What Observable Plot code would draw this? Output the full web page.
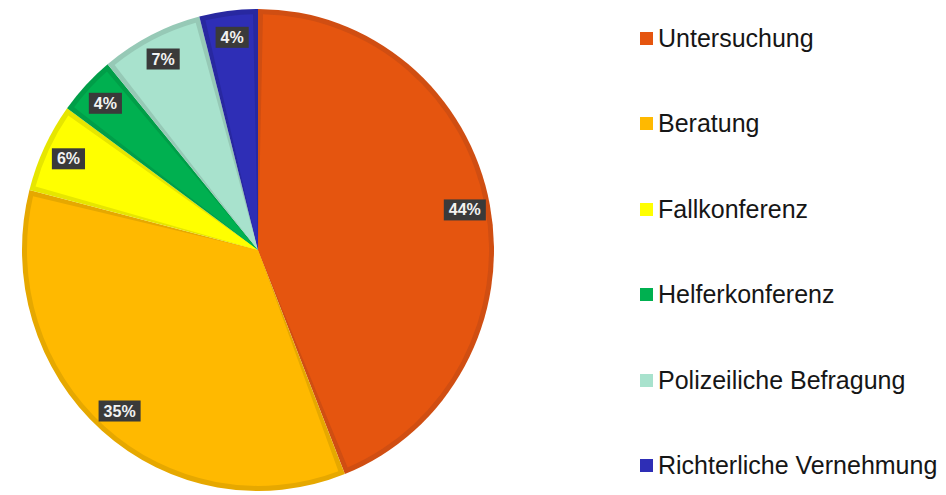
<!DOCTYPE html>
<html>
<head>
<meta charset="utf-8">
<script src="https://cdn.jsdelivr.net/npm/d3@7"></script>
<script src="https://cdn.jsdelivr.net/npm/@observablehq/plot@0.6"></script>
<style>
  html, body { margin: 0; padding: 0; background: #fff; }
  #wrap { position: relative; width: 946px; height: 495px; overflow: hidden; font-family: "Liberation Sans", Arial, sans-serif; }
  #legend { position: absolute; left: 640px; top: -4.75px; }
  .row { height: 85.5px; display: flex; align-items: center; }
  .sw { width: 13px; height: 13px; margin-right: 5px; flex: none; }
  .lab { font-size: 25px; color: #161616; white-space: nowrap; line-height: 1; }
</style>
</head>
<body>
<div id="wrap"></div>
<script>
const categories = ["Untersuchung", "Beratung", "Fallkonferenz", "Helferkonferenz", "Polizeiliche Befragung", "Richterliche Vernehmung"];
const shares = [44, 35, 6, 4, 7, 4];
const shareLabels = ["44%", "35%", "6%", "4%", "7%", "4%"];
const fills = ["#E5550F", "#FFB900", "#FFFF00", "#00B050", "#A8E2CD", "#2E2EB6"];
const borders = ["#D04E12", "#E6A800", "#E6E600", "#009E48", "#96C9B6", "#2828A0"];

const data = categories.map((c, i) => ({category: c, value: shares[i], label: shareLabels[i], fill: fills[i], border: borders[i]}));
const arcs = d3.pie().sort(null).value(d => d.value)(data);
const labelR = 0.89;
const labelData = arcs.map(a => {
  const mid = (a.startAngle + a.endAngle) / 2;
  return {label: a.data.label, x: Math.sin(mid) * labelR, y: Math.cos(mid) * labelR};
});

function pieMark(index, scales) {
  const cx = scales.x(0), cy = scales.y(0);
  const rx = scales.x(1) - cx, ry = cy - scales.y(1);
  const g = d3.create("svg:g").attr("transform", `translate(${cx},${cy}) scale(1,${ry / rx})`);
  const inset = 5;
  const outer = d3.arc().innerRadius(0).outerRadius(rx);
  const inner = d3.arc().innerRadius(0).outerRadius(rx - inset).padRadius(rx - inset);
  g.selectAll("path.o").data(arcs).join("path").attr("class", "o")
    .attr("d", d => outer(d)).attr("fill", d => d.data.border);
  g.selectAll("path.i").data(arcs).join("path").attr("class", "i")
    .attr("d", d => inner({...d, padAngle: 2 * inset / (rx - inset)})).attr("fill", d => d.data.fill);
  return g.node();
}

const plot = Plot.plot({
  width: 946,
  height: 495,
  marginLeft: 22,
  marginRight: 452,
  marginTop: 9,
  marginBottom: 4,
  x: {domain: [-1, 1], axis: null},
  y: {domain: [-1, 1], axis: null},
  style: {background: "transparent", overflow: "visible"},
  marks: [
    pieMark,
    Plot.text(labelData, {x: "x", y: "y", text: "label", fill: "#f2f2f2", fontSize: 16, fontWeight: "bold",
      fontFamily: "Liberation Sans, Arial, sans-serif"})
  ]
});

const wrap = document.getElementById("wrap");
wrap.appendChild(plot);

// dark boxes behind the percentage labels
const textGroups = plot.querySelectorAll("g[aria-label='text']");
textGroups.forEach(tg => {
  tg.querySelectorAll("text").forEach(t => {
    const b = t.getBBox();
    const padX = 5, h = 21;
    const rect = document.createElementNS("http://www.w3.org/2000/svg", "rect");
    rect.setAttribute("x", b.x - padX);
    rect.setAttribute("y", b.y + b.height / 2 - h / 2);
    rect.setAttribute("width", b.width + 2 * padX);
    rect.setAttribute("height", h);
    rect.setAttribute("fill", "#3a3a3a");
    if (t.getAttribute("transform")) rect.setAttribute("transform", t.getAttribute("transform"));
    tg.insertBefore(rect, t);
  });
});

const legend = document.createElement("div");
legend.id = "legend";
categories.forEach((c, i) => {
  const row = document.createElement("div");
  row.className = "row";
  const sw = document.createElement("div");
  sw.className = "sw";
  sw.style.background = fills[i];
  const lab = document.createElement("div");
  lab.className = "lab";
  lab.textContent = c;
  row.appendChild(sw);
  row.appendChild(lab);
  legend.appendChild(row);
});
wrap.appendChild(legend);
</script>
</body>
</html>
